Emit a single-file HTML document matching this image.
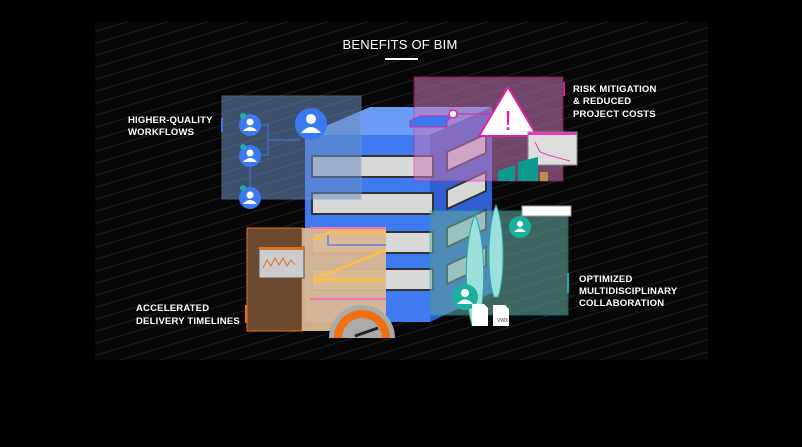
<!DOCTYPE html>
<html><head><meta charset="utf-8"><style>
html,body{margin:0;padding:0;background:#000;width:802px;height:447px;overflow:hidden}
svg{display:block}
text{font-family:"Liberation Sans",sans-serif;fill:#fff}
</style></head><body>
<svg width="802" height="447" viewBox="0 0 802 447" xmlns="http://www.w3.org/2000/svg">
<defs>
<pattern id="g" width="40" height="12" patternUnits="userSpaceOnUse">
<path d="M0 12 L40 0" stroke="#262626" stroke-width="0.8"/>
</pattern>
</defs>
<rect width="802" height="447" fill="#000"/>
<rect x="95" y="22" width="613" height="338" fill="#070707"/>
<rect x="95" y="22" width="613" height="338" fill="url(#g)"/>
<text x="400" y="49" text-anchor="middle" font-size="13" letter-spacing="0.2">BENEFITS OF BIM</text>
<rect x="385" y="58" width="33" height="2" fill="#fff"/>

<!-- building -->
<polygon points="305,135 370,107 492,107 430,135" fill="#6a9cf5"/>
<rect x="305" y="135" width="125" height="187" fill="#3f7bf0"/>
<polygon points="430,135 492,107 492,293 430,322" fill="#2f5fd0"/>
<g fill="#d8d8d8" stroke="#333" stroke-width="2">
<rect x="312" y="156" width="121" height="21"/>
<rect x="312" y="193" width="121" height="21"/>
<rect x="312" y="232" width="121" height="21"/>
<rect x="312" y="269" width="121" height="21"/>
<polygon points="447,152 486,134 486,153 447,171"/>
<polygon points="447,190 486,172 486,191 447,209"/>
<polygon points="447,228 486,210 486,229 447,247"/>
<polygon points="447,265 486,247 486,266 447,284"/>
</g>

<!-- workflows panel -->
<rect x="222" y="96" width="139" height="103" fill="#6c8ec0" opacity="0.55" stroke="#7fa0d0"/>
<path d="M250 125 H268 V155 H250 M268 140 H300 M250 160 V195" stroke="#3f70d0" stroke-width="1.2" fill="none"/>
<g fill="#3a7af0"><circle cx="250" cy="125" r="11"/><circle cx="250" cy="156" r="11"/><circle cx="250" cy="198" r="11"/><circle cx="311" cy="124" r="16"/></g>
<g fill="#fff"><circle cx="250" cy="122" r="3.5"/><path d="M243 131 q7-8 14 0z"/><circle cx="250" cy="153" r="3.5"/><path d="M243 162 q7-8 14 0z"/><circle cx="250" cy="195" r="3.5"/><path d="M243 204 q7-8 14 0z"/><circle cx="311" cy="119" r="5"/><path d="M301 133 q10-12 20 0z"/></g>
<g fill="#2aa"><circle cx="243" cy="116" r="3"/><circle cx="243" cy="147" r="3"/><circle cx="243" cy="188" r="3"/></g>
<rect x="221" y="118" width="2" height="14" fill="#3a7af0"/>

<!-- pink panel -->
<rect x="414" y="77" width="149" height="104" fill="#c87ab8" opacity="0.55" stroke="#e020a0"/>
<polygon points="410,121 420,116 452,116 447,121 447,127 410,127" fill="#3a7af0" stroke="#e020a0"/>
<path d="M453 114 H490" stroke="#e020a0"/><circle cx="453" cy="114" r="4" fill="#fff" stroke="#e020a0" stroke-width="1.5"/>
<polygon points="508,87 537,136 479,136" fill="#fff" stroke="#e020a0" stroke-width="2" stroke-linejoin="round"/>
<text x="508" y="130" text-anchor="middle" font-size="28" style="fill:#e020a0">!</text>
<rect x="528" y="132" width="49" height="33" fill="#ddd" stroke="#888"/><rect x="528" y="132" width="49" height="3" fill="#e040b0"/>
<path d="M535 142 L540 152 L548 155 L570 161" stroke="#e040b0" fill="none"/>
<polygon points="498,171 515,165 515,181 498,181" fill="#0a9a90"/><polygon points="518,162 538,157 538,181 518,181" fill="#0a9a90"/><rect x="540" y="172" width="8" height="9" fill="#c09040"/>
<rect x="563" y="82" width="2" height="14" fill="#e020a0"/>

<!-- brown panel -->
<rect x="247" y="228" width="55" height="103" fill="#6b4a30" stroke="#e07020"/>
<rect x="302" y="228" width="84" height="103" fill="#dab894" opacity="0.95"/>
<path d="M310 228 H386 M310 299 H386" stroke="#ff70b0" stroke-width="2"/>
<path d="M312 240 L330 232 H386 M312 280 L386 250 M312 280 H386" stroke="#ffc040" stroke-width="2.5" fill="none"/>
<path d="M328 235 V245 H386" stroke="#8090d0" stroke-width="2" fill="none"/>
<rect x="259" y="247" width="45" height="31" fill="#ccc" stroke="#555"/><rect x="259" y="247" width="45" height="3" fill="#e07020"/>
<path d="M263 268 l4-8 4 6 4-8 4 7 4-7 4 8 4-6 4 5" stroke="#e07020" fill="none"/>
<rect x="245" y="305" width="2" height="18" fill="#e07020"/>
<path d="M329 338 a33 33 0 0 1 66 0z" fill="#aaa"/>
<path d="M334 338 a28 28 0 0 1 56 0h-8 a20 20 0 0 0 -40 0z" fill="#f07010"/>
<path d="M355 336 L378 328" stroke="#222" stroke-width="3"/>

<!-- teal panel -->
<rect x="430" y="211" width="138" height="104" fill="#6ab0a8" opacity="0.55" stroke="#2aa"/>
<path d="M475 215 C486 240 486 300 478 325 L472 325 C464 300 464 240 475 215z" fill="#9ce0dc" stroke="#2aa"/>
<path d="M496 205 C505 225 505 280 498 297 L494 297 C487 280 487 225 496 205z" fill="#9ce0dc" stroke="#2aa"/>
<rect x="522" y="206" width="49" height="10" fill="#fff" stroke="#999"/>
<circle cx="520" cy="227" r="11" fill="#19b0a0"/><circle cx="520" cy="224" r="3" fill="#fff"/><path d="M514 232 q6-7 12 0z" fill="#fff"/>
<circle cx="465" cy="297" r="13" fill="#19b0a0"/><circle cx="465" cy="293" r="4" fill="#fff"/><path d="M457 304 q8-9 16 0z" fill="#fff"/>
<polygon points="472,304 484,304 488,308 488,326 472,326" fill="#fff"/><polygon points="493,305 505,305 509,309 509,326 493,326" fill="#fff"/>
<text x="497" y="322" font-size="5" style="fill:#333">VWX</text>
<rect x="567" y="273" width="2" height="20" fill="#2aa"/>

<g font-size="9.5" letter-spacing="0.2" font-weight="bold">
<text x="128" y="123">HIGHER-QUALITY</text><text x="128" y="135">WORKFLOWS</text>
<text x="573" y="92">RISK MITIGATION</text><text x="573" y="104">&amp; REDUCED</text><text x="573" y="117">PROJECT COSTS</text>
<text x="579" y="282">OPTIMIZED</text><text x="579" y="294">MULTIDISCIPLINARY</text><text x="579" y="306">COLLABORATION</text>
<text x="136" y="311">ACCELERATED</text><text x="136" y="324">DELIVERY TIMELINES</text>
</g>
</svg>
</body></html>
